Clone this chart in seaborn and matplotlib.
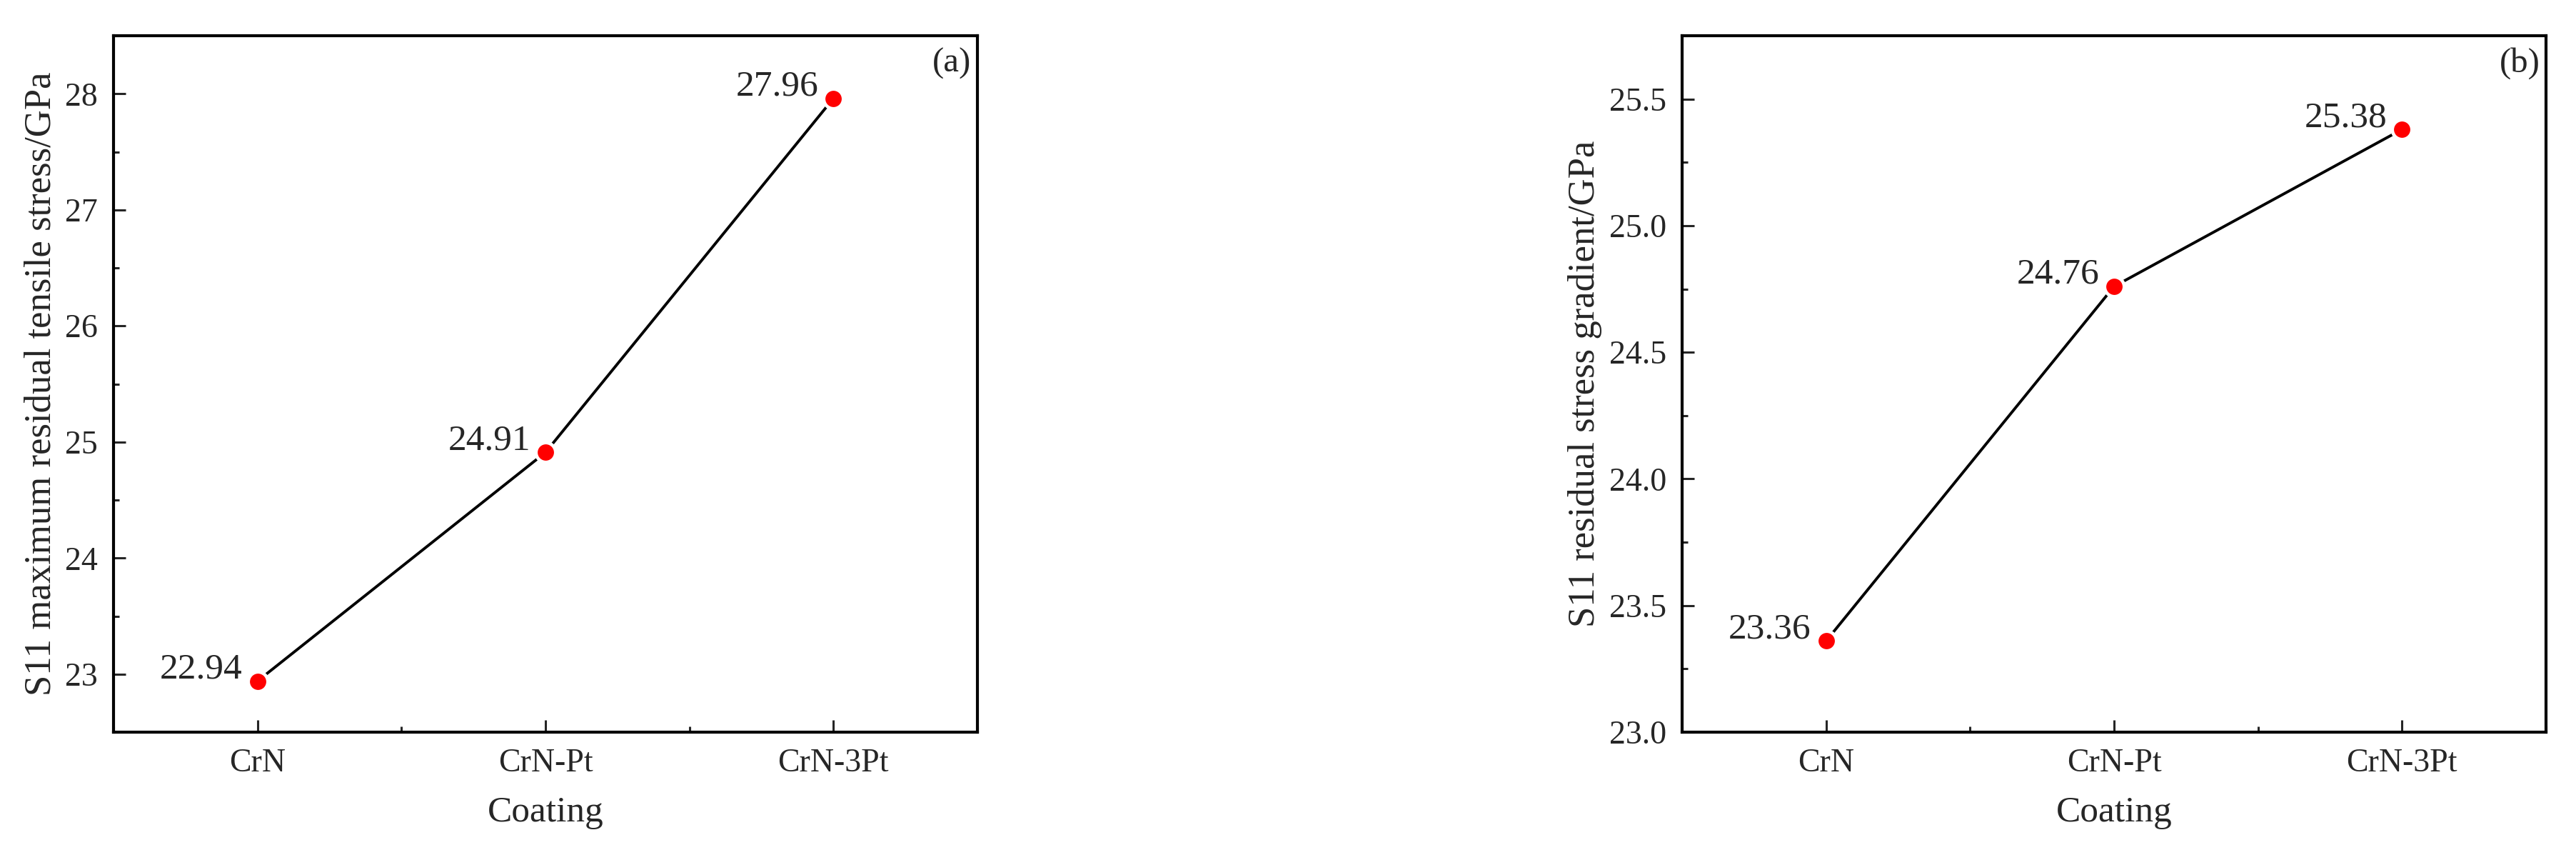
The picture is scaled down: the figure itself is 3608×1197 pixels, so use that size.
import numpy as np
import pandas as pd
import seaborn as sns
import matplotlib.pyplot as plt
from matplotlib.ticker import MultipleLocator

sns.set_style('white')
plt.rcParams['font.family'] = ['Liberation Serif', 'DejaVu Serif']

coatings = ['CrN', 'CrN-Pt', 'CrN-3Pt']
max_tensile = [22.94, 24.91, 27.96]
stress_grad = [23.36, 24.76, 25.38]

ylabels = ['S11 maximum residual tensile stress/GPa', 'S11 residual stress gradient/GPa']
panel_tags = ['(a)', '(b)']
ylims = [(22.5, 28.5), (23.0, 25.75)]
ymajor = [1, 0.5]
yfmt = ['{:.0f}', '{:.1f}']

fig = plt.figure(figsize=(36.08, 11.97), dpi=100)
ax1 = fig.add_axes([159/3608, 172/1197, 1210/3608, 975/1197])
ax2 = fig.add_axes([2356/3608, 172/1197, 1210/3608, 975/1197])

for i, (ax, vals) in enumerate(zip([ax1, ax2], [max_tensile, stress_grad])):
    df = pd.DataFrame({'Coating': coatings, 'val': vals})
    sns.lineplot(data=df, x='Coating', y='val', ax=ax, color='black', lw=2.8, sort=False)
    sns.scatterplot(data=df, x='Coating', y='val', ax=ax, color='red', s=390,
                    edgecolor='white', linewidth=3.3, zorder=3)
    for x, v in enumerate(vals):
        ax.annotate(f'{v:.2f}', (x, v), xytext=(-15, 3), textcoords='offset points',
                    ha='right', va='baseline', fontsize=37)

    ax.set_xlim(-0.5, 2.5)
    ax.set_ylim(*ylims[i])
    ax.yaxis.set_major_locator(MultipleLocator(ymajor[i]))
    ax.yaxis.set_minor_locator(MultipleLocator(ymajor[i] / 2))
    ax.xaxis.set_minor_locator(MultipleLocator(0.5))
    ax.set_yticklabels([yfmt[i].format(t) for t in ax.get_yticks()])
    ax.tick_params(axis='both', which='major', direction='in', length=12, width=2.2,
                   labelsize=33, pad=16, top=False, right=False, left=True, bottom=True)
    ax.tick_params(axis='both', which='minor', direction='in', length=6, width=2.2,
                   top=False, right=False, left=True, bottom=True)
    for sp in ax.spines.values():
        sp.set_linewidth(3)
        sp.set_color('black')
    ax.set_xlabel('Coating', fontsize=37, labelpad=18)
    ax.set_ylabel(ylabels[i], fontsize=38, labelpad=7)
    ax.text(0.993, 0.983, panel_tags[i], transform=ax.transAxes, ha='right', va='top',
            fontsize=35)

fig.savefig('out.png', dpi=100, facecolor='white')
